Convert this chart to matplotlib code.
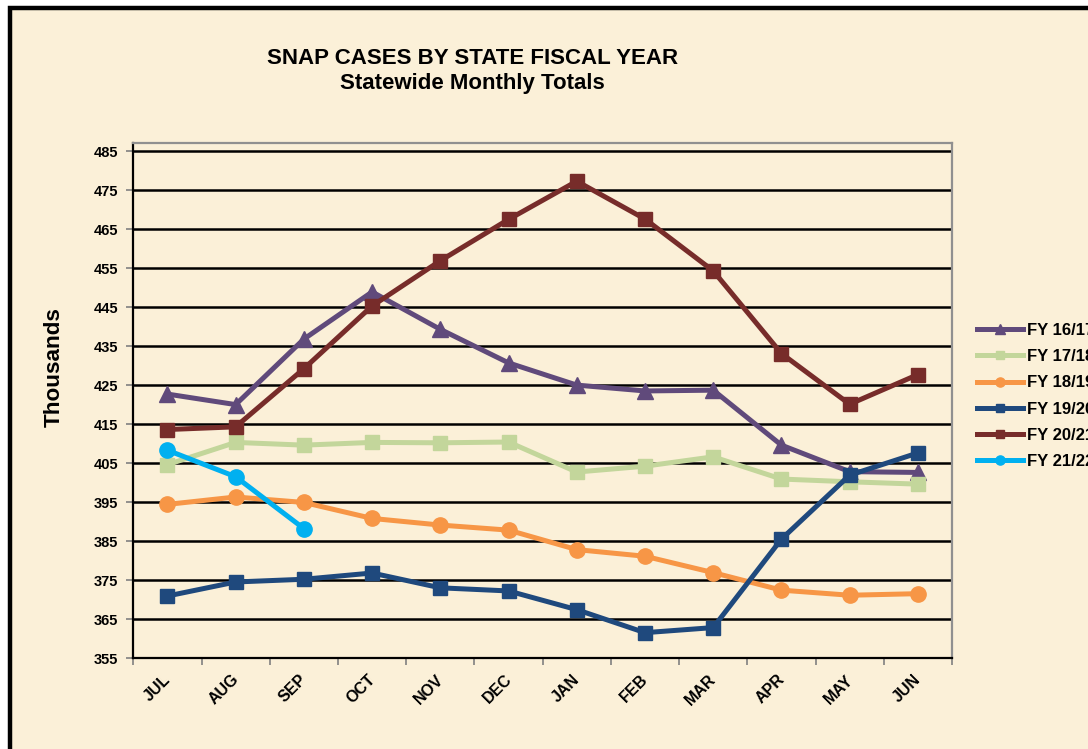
import matplotlib
matplotlib.use("Agg")
import matplotlib.pyplot as plt
from matplotlib.patches import Rectangle
from matplotlib.transforms import ScaledTranslation

plt.rcParams['font.family'] = ['Liberation Sans', 'DejaVu Sans']

months = ["JUL", "AUG", "SEP", "OCT", "NOV", "DEC", "JAN", "FEB", "MAR", "APR", "MAY", "JUN"]
fy1617 = [422.7, 420.0, 436.8, 448.9, 439.3, 430.7, 425.0, 423.5, 423.7, 409.6, 402.8, 402.6]
fy1718 = [404.6, 410.3, 409.6, 410.3, 410.2, 410.4, 402.7, 404.2, 406.6, 400.9, 400.2, 399.6]
fy1819 = [394.4, 396.3, 394.9, 390.8, 389.1, 387.8, 382.8, 381.1, 376.9, 372.4, 371.1, 371.5]
fy1920 = [370.9, 374.5, 375.2, 376.8, 373.0, 372.2, 367.4, 361.5, 362.8, 385.5, 401.9, 407.6]
fy2021 = [413.6, 414.3, 429.2, 445.3, 456.9, 467.5, 477.3, 467.6, 454.3, 433.1, 420.1, 427.7]
fy2122 = [408.3, 401.5, 388.2]
yticks = list(range(355, 486, 10))

series = [
    ("FY 16/17", fy1617, "#604A7B", "^", 11),
    ("FY 17/18", fy1718, "#C3D69B", "s", 10),
    ("FY 18/19", fy1819, "#F79646", "o", 11),
    ("FY 19/20", fy1920, "#1F497D", "s", 10),
    ("FY 20/21", fy2021, "#772C2A", "s", 10),
    ("FY 21/22", fy2122, "#00B0F0", "o", 11),
]

W, H = 1088, 749
fig = plt.figure(figsize=(W / 100, H / 100), dpi=100)
fig.patch.set_facecolor("white")
bg = "#FBF0D8"
fig.patches.append(Rectangle((10 / W, -0.05), 1.2, 1 - 8 / H + 0.05, transform=fig.transFigure,
                             facecolor=bg, edgecolor="black", linewidth=3.2, zorder=-10))

ax = fig.add_axes([133.3 / W, 1 - 658 / H, (952 - 133.3) / W, (658 - 143) / H])
ax.set_zorder(5)
ax.set_facecolor(bg)

for label, vals, color, mk, ms in series:
    x = list(range(len(vals)))
    ax.plot(x, vals, color=color, marker=mk, markersize=ms, linewidth=3.6,
            label=label, zorder=3, clip_on=False)

ax.set_xlim(-0.5, 11.5)
ax.set_ylim(355, 487.1)
ax.set_yticks(yticks)
ax.set_yticklabels([str(v) for v in yticks], fontsize=10.5, fontweight="bold")
ax.yaxis.grid(True, color="black", linewidth=1.8, zorder=1)
ax.set_axisbelow(True)

ax.set_xticks(range(12))
ax.set_xticklabels(months, rotation=45, ha="right", va="top", fontsize=11.5, fontweight="bold")
ax.tick_params(axis="x", which="major", length=0, pad=10)
offset = ScaledTranslation(6 / 100, 0, fig.dpi_scale_trans)
for t in ax.get_xticklabels():
    t.set_transform(t.get_transform() + offset)
ax.set_xticks([i - 0.5 for i in range(13)], minor=True)
ax.tick_params(axis="x", which="minor", length=5, width=1.2, color="#808080", direction="out")
ax.tick_params(axis="y", length=5, width=1.2, color="#808080", pad=6)

for s in ("left", "bottom"):
    ax.spines[s].set_color("black")
    ax.spines[s].set_linewidth(1.6)
for s in ("top", "right"):
    ax.spines[s].set_color("#909090")
    ax.spines[s].set_linewidth(1.6)

fig.text(472.5 / W, 1 - 58.5 / H, "SNAP CASES BY STATE FISCAL YEAR", ha="center", va="center",
         fontsize=16, fontweight="bold")
fig.text(472.5 / W, 1 - 83.5 / H, "Statewide Monthly Totals", ha="center", va="center",
         fontsize=16, fontweight="bold")
fig.text(54 / W, 1 - 367 / H, "Thousands", ha="center", va="center", rotation=90,
         fontsize=16.2, fontweight="bold")

leg = ax.legend(loc="upper left", bbox_to_anchor=(976.7 / W, 1 - 323 / H),
                bbox_transform=fig.transFigure, frameon=False, borderpad=0, borderaxespad=0,
                handlelength=2.8, handletextpad=0.2, labelspacing=0.67, markerscale=0.6,
                prop={"weight": "bold", "size": 12})

fig.savefig("out.png", dpi=100, facecolor=fig.get_facecolor())
